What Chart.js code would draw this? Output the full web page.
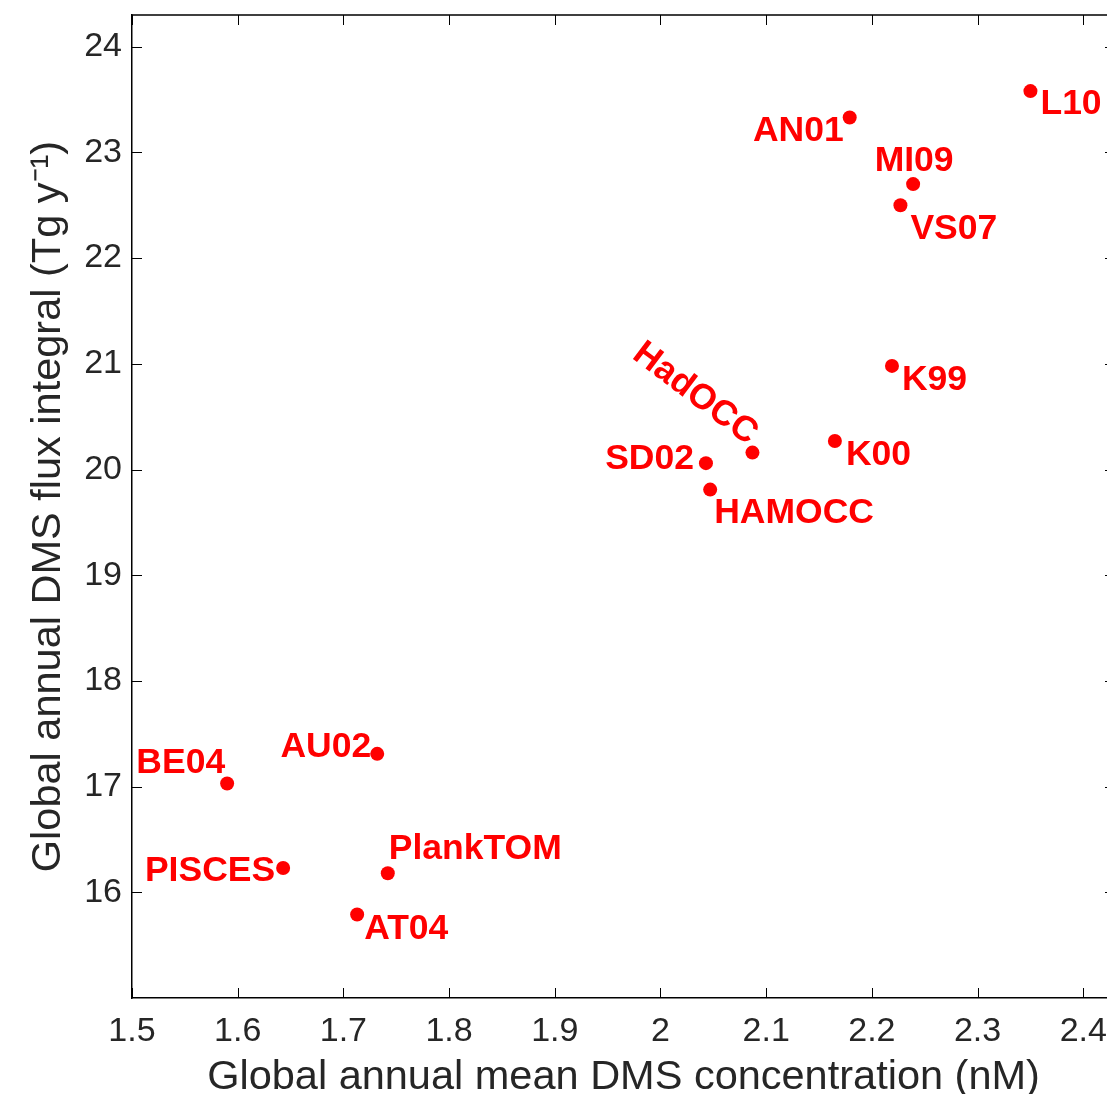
<!DOCTYPE html>
<html>
<head>
<meta charset="utf-8">
<title>DMS flux vs concentration</title>
<script src="https://cdn.jsdelivr.net/npm/chart.js@4.4.1/dist/chart.umd.min.js"></script>
<style>
    html, body { margin: 0; padding: 0; background: #fff; overflow: hidden; }
    canvas { display: block; }
</style>
</head>
<body>
<!-- el lienzo es un poco mas ancho que la ventana: el borde derecho del eje queda fuera, como en la figura -->
<canvas id="myChart" width="1115" height="1094"></canvas>
<script>
// Modelos y valores globales anuales
var models = ["L10", "AN01", "MI09", "VS07", "K99", "HadOCC", "K00", "SD02", "HAMOCC", "AU02", "BE04", "PISCES", "PlankTOM", "AT04"];
var concentration = [2.350, 2.179, 2.239, 2.227, 2.219, 2.087, 2.165, 2.043, 2.047, 1.732, 1.590, 1.643, 1.742, 1.713];
var fluxIntegral = [23.58, 23.33, 22.70, 22.50, 20.98, 20.16, 20.27, 20.06, 19.81, 17.31, 17.03, 16.23, 16.18, 15.79];

var xTicks = [1.5, 1.6, 1.7, 1.8, 1.9, 2, 2.1, 2.2, 2.3, 2.4];
var yTicks = [16, 17, 18, 19, 20, 21, 22, 23, 24];

// posicion de cada etiqueta respecto a su punto
var labelPlacement = {
    "L10":      { align: "left",   dx: 10,  dy: 13 },
    "AN01":     { align: "right",  dx: -6,  dy: 14 },
    "MI09":     { align: "center", dx: 1,   dy: -23 },
    "VS07":     { align: "left",   dx: 10,  dy: 24 },
    "K99":      { align: "left",   dx: 10,  dy: 14 },
    "HadOCC":   { align: "right",  dx: 1,   dy: -15, rot: 37 },
    "K00":      { align: "left",   dx: 11,  dy: 14 },
    "SD02":     { align: "right",  dx: -12, dy: -4 },
    "HAMOCC":   { align: "left",   dx: 4,   dy: 24 },
    "AU02":     { align: "right",  dx: -6,  dy: -7 },
    "BE04":     { align: "right",  dx: -2,  dy: -20 },
    "PISCES":   { align: "right",  dx: -8,  dy: 3 },
    "PlankTOM": { align: "left",   dx: 1,   dy: -24 },
    "AT04":     { align: "left",   dx: 7,   dy: 15 }
};

var fontFamily = "'Liberation Sans', Arial, Helvetica, sans-serif";
var textColor = "#262626";

// Marco de ejes con ticks hacia adentro (estilo MATLAB)
var axesBoxPlugin = {
    id: "axesBox",
    afterDraw: function(chart) {
        var ctx = chart.ctx;
        var area = chart.chartArea;
        var sx = chart.scales.x;
        var sy = chart.scales.y;
        var len = 10;
        ctx.save();
        ctx.strokeStyle = "#000";
        ctx.lineWidth = 1.5;
        ctx.beginPath();
        ctx.moveTo(area.left, area.top);
        ctx.lineTo(area.right, area.top);
        ctx.lineTo(area.right, area.bottom);
        ctx.stroke();

        ctx.lineWidth = 1;
        ctx.beginPath();
        sx.ticks.forEach(function(t) {
            var px = Math.round(sx.getPixelForValue(t.value)) + 0.5;
            ctx.moveTo(px, area.bottom);
            ctx.lineTo(px, area.bottom - len);
            ctx.moveTo(px, area.top);
            ctx.lineTo(px, area.top + len);
        });
        sy.ticks.forEach(function(t) {
            var py = Math.round(sy.getPixelForValue(t.value)) + 0.5;
            ctx.moveTo(area.left, py);
            ctx.lineTo(area.left + len, py);
            ctx.moveTo(area.right, py);
            ctx.lineTo(area.right - len, py);
        });
        ctx.stroke();
        ctx.restore();
    }
};

// Etiquetas de texto junto a cada punto
var pointLabelsPlugin = {
    id: "pointLabels",
    afterDatasetsDraw: function(chart) {
        var ctx = chart.ctx;
        var meta = chart.getDatasetMeta(0);
        ctx.save();
        ctx.fillStyle = "#ff0000";
        ctx.font = "bold 35.5px " + fontFamily;
        ctx.textBaseline = "middle";
        meta.data.forEach(function(pt, i) {
            var name = models[i];
            var p = labelPlacement[name];
            ctx.save();
            ctx.translate(pt.x + p.dx, pt.y + p.dy);
            if (p.rot) {
                ctx.rotate(p.rot * Math.PI / 180);
            }
            ctx.textAlign = p.align;
            ctx.fillText(name, 0, 0);
            ctx.restore();
        });
        ctx.restore();
    }
};

var points = concentration.map(function(x, i) {
    return { x: x, y: fluxIntegral[i] };
});

// quitar el relleno automatico que Chart.js reserva para las etiquetas extremas
var noEdgePadding = function(scale) {
    scale.paddingTop = 0;
    scale.paddingBottom = 0;
    scale.paddingLeft = 0;
    scale.paddingRight = 0;
};

var config = {
    type: "scatter",
    data: {
        datasets: [{
            label: "Modelos",
            data: points,
            backgroundColor: "#ff0000",
            borderWidth: 0,
            pointRadius: 7,
            pointHoverRadius: 7,
            clip: false
        }]
    },
    options: {
        responsive: false,
        animation: false,
        events: [],
        layout: {
            autoPadding: false,
            padding: { left: 0, top: 15, right: 0, bottom: 0 }
        },
        plugins: {
            legend: { display: false },
            tooltip: { enabled: false }
        },
        scales: {
            x: {
                type: "linear",
                min: 1.5,
                max: 2.43,
                afterBuildTicks: function(scale) {
                    scale.ticks = xTicks.map(function(v) { return { value: v }; });
                },
                afterFit: function(scale) {
                    scale.height = 96;
                    noEdgePadding(scale);
                },
                border: { display: true, color: "#000", width: 1.5 },
                grid: { display: false, drawTicks: false },
                ticks: {
                    autoSkip: false,
                    maxRotation: 0,
                    padding: 13,
                    color: textColor,
                    font: { family: fontFamily, size: 34 },
                    callback: function(v) { return String(v); }
                },
                title: {
                    display: true,
                    text: "Global annual mean DMS concentration (nM)",
                    color: textColor,
                    font: { family: fontFamily, size: 41.5, lineHeight: 1 },
                    padding: { top: 0, bottom: -4 }
                }
            },
            y: {
                type: "linear",
                min: 15,
                max: 24.3,
                afterBuildTicks: function(scale) {
                    scale.ticks = yTicks.map(function(v) { return { value: v }; });
                },
                afterFit: function(scale) {
                    scale.width = 132;
                    noEdgePadding(scale);
                },
                border: { display: true, color: "#000", width: 1.5 },
                grid: { display: false, drawTicks: false },
                ticks: {
                    autoSkip: false,
                    padding: 10,
                    color: textColor,
                    font: { family: fontFamily, size: 34 },
                    callback: function(v) { return String(v); }
                },
                title: {
                    display: true,
                    text: "Global annual DMS flux integral (Tg y\u207B\u00B9)",
                    color: textColor,
                    font: { family: fontFamily, size: 41.5, lineHeight: 1 },
                    padding: { top: 28, bottom: 0 }
                }
            }
        }
    },
    plugins: [axesBoxPlugin, pointLabelsPlugin]
};

var ctx = document.getElementById("myChart").getContext("2d");
var myChart = new Chart(ctx, config);
</script>
</body>
</html>
